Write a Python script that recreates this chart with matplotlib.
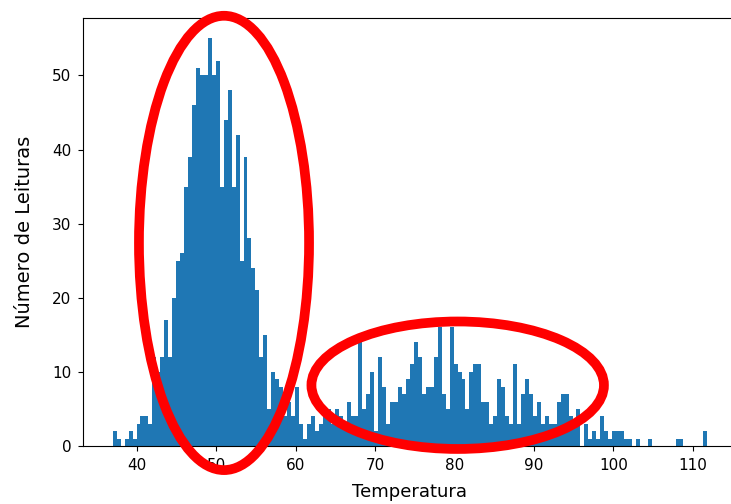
import matplotlib
matplotlib.use("Agg")
import matplotlib.pyplot as plt
import numpy as np
from matplotlib.patches import Ellipse

# -------------------------------
# Data (150 bins between 37.0 and 111.8)
# -------------------------------
temp_min = 37.0
temp_max = 111.8
n_bins = 150

bin_counts = [
    2, 1, 0, 1, 2, 1, 3, 4, 4, 3,
    12, 10, 12, 17, 12, 20, 25, 26, 35, 39,
    46, 51, 50, 50, 55, 50, 52, 35, 44, 48,
    35, 42, 25, 39, 28, 24, 21, 12, 15, 5,
    10, 9, 8, 4, 6, 4, 8, 3, 1, 3,
    4, 2, 3, 4, 5, 3, 5, 4, 3, 6,
    4, 4, 14, 5, 7, 10, 2, 12, 8, 3,
    6, 6, 8, 7, 9, 11, 14, 12, 7, 8,
    8, 12, 16, 7, 5, 16, 11, 10, 9, 5,
    10, 11, 11, 6, 6, 3, 4, 9, 8, 4,
    3, 11, 3, 7, 9, 7, 4, 6, 3, 4,
    3, 3, 6, 7, 7, 4, 3, 5, 0, 3,
    1, 2, 1, 4, 2, 1, 2, 2, 2, 1,
    1, 0, 1, 0, 0, 1, 0, 0, 0, 0,
    0, 0, 1, 1, 0, 0, 0, 0, 0, 2,
]

x_label = "Temperatura"
y_label = "Número de Leituras"
y_ticks = [0, 10, 20, 30, 40, 50]
x_ticks = [40, 50, 60, 70, 80, 90, 100, 110]

# highlight ellipses: (center x, center y, width, height) in data units
highlights = [
    (51.0, 27.4, 21.4, 61.3),
    (80.4, 8.2, 36.8, 17.2),
]

bin_edges = np.linspace(temp_min, temp_max, n_bins + 1)
bin_centers = (bin_edges[:-1] + bin_edges[1:]) / 2

fig = plt.figure(figsize=(7.31, 5.04), dpi=100)
ax = fig.add_axes([83 / 731, 58 / 504, 654 / 731, 428 / 504])

ax.hist(bin_centers, bins=bin_edges, weights=bin_counts, color="#1f77b4")

ax.set_xticks(x_ticks)
ax.set_yticks(y_ticks)
ax.tick_params(labelsize=11, pad=5)
ax.set_xlabel(x_label, fontsize=13, labelpad=7)
ax.set_ylabel(y_label, fontsize=14, labelpad=13)

for cx, cy, w, h in highlights:
    ax.add_patch(Ellipse((cx, cy), w, h, fill=False, edgecolor="#ff0000",
                         linewidth=7, clip_on=False, zorder=5))

fig.savefig("out.png", dpi=100)
